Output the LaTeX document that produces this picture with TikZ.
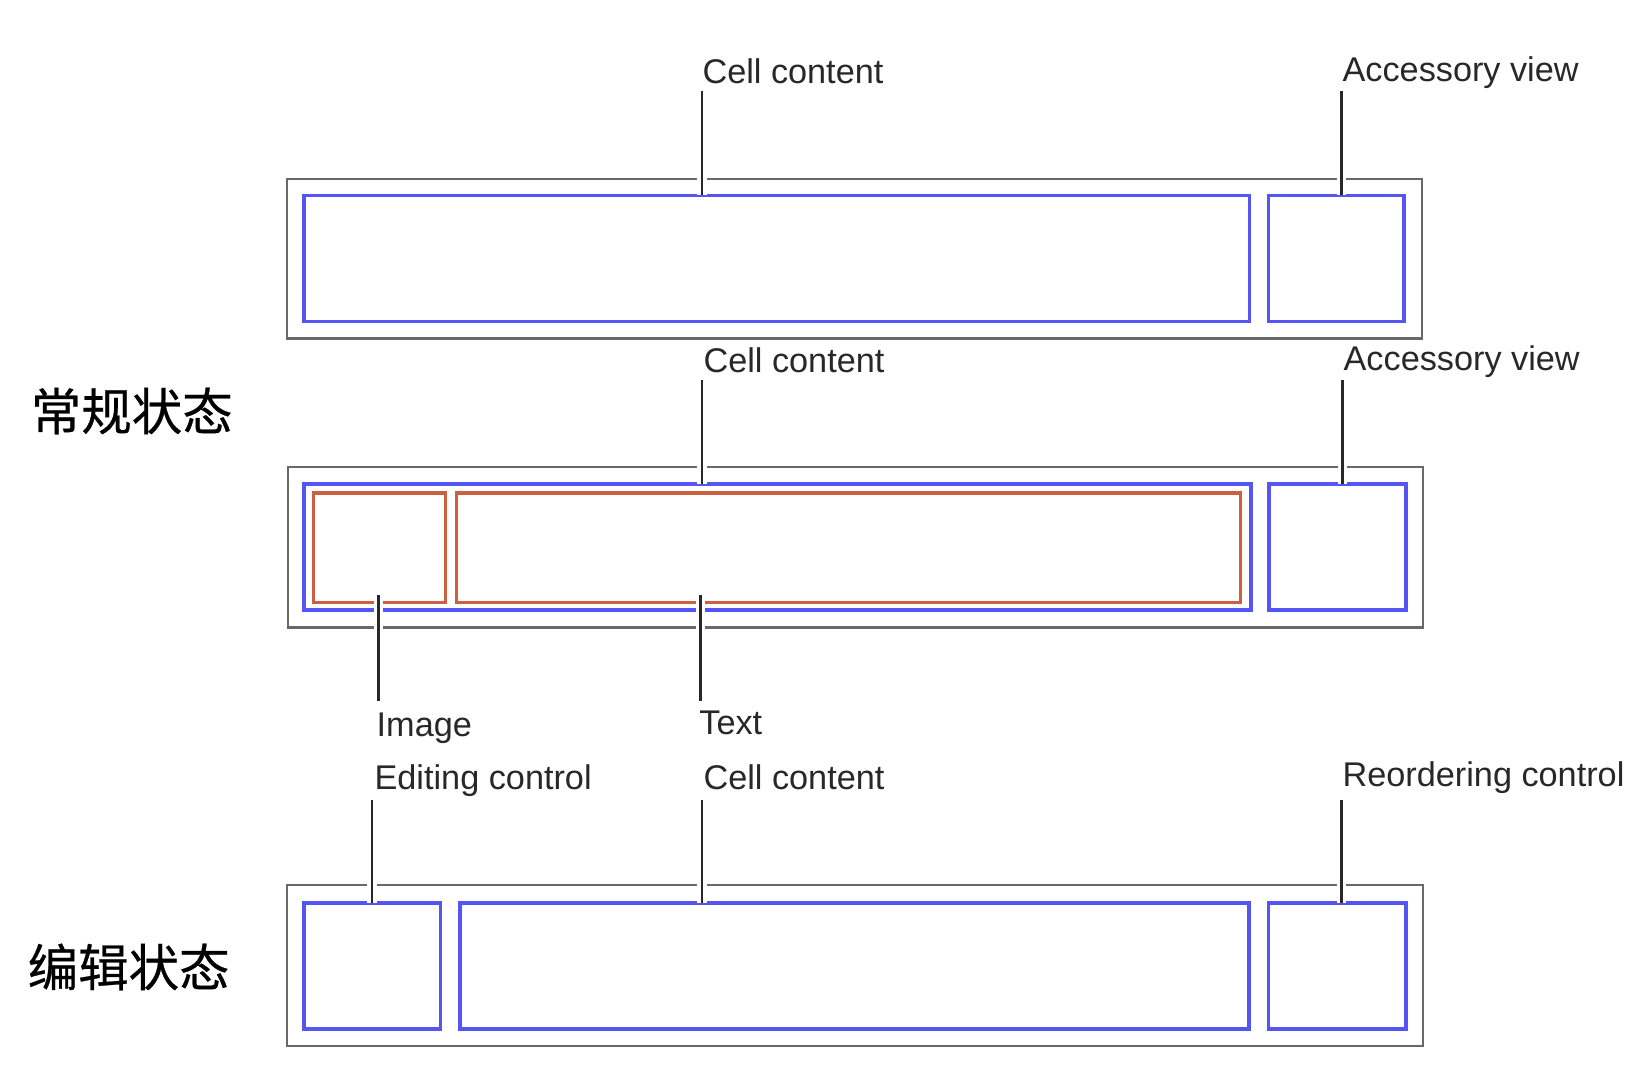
\documentclass[tikz,border=0pt]{standalone}
\usepackage{fontspec}
\setmainfont{Liberation Sans}
\newfontfamily\cjk[FakeBold=0.5]{Noto Sans CJK SC}
\usetikzlibrary{fit}
\definecolor{cellblue}{RGB}{85,85,245}
\definecolor{cellorange}{RGB}{205,95,65}
\definecolor{framegray}{RGB}{105,105,105}
\definecolor{inkc}{RGB}{40,40,40}
\begin{document}
\begin{tikzpicture}[x=0.5pt,y=-0.5pt,
  framebox/.style={draw=framegray, line width=1.1pt, inner sep=0pt, outer sep=0pt},
  bluebox/.style={draw=cellblue, line width=1.7pt, inner sep=0pt, outer sep=0pt},
  orangebox/.style={draw=cellorange, line width=1.5pt, inner sep=0pt, outer sep=0pt},
  leader/.style={draw=inkc, line width=1.2pt, preaction={draw=white, line width=4.5pt}},
  lbl/.style={anchor=base west, inner sep=0pt, text=inkc, font=\fontsize{16.3pt}{19pt}\selectfont},
  state/.style={anchor=west, inner sep=0pt, text=black, font=\cjk\fontsize{24pt}{28pt}\selectfont}]
\fill[white] (0,0) rectangle (1568,1033);
\useasboundingbox (0,0) rectangle (1568,1033);

% ---------- Row 1 ----------
\node[framebox, fit={(273,170) (1353,322)}] (r1) {};
\node[bluebox, fit={(289,186) (1189,306)}] (b11) {};
\node[bluebox, fit={(1207,186) (1336,306)}] (b12) {};
\node[lbl] (t11) at (668,79) {Cell content};
\node[lbl] (t12) at (1277,78) {Accessory view};
\coordinate (c11) at (668,87);
\coordinate (c12) at (1276.5,87);
\draw[leader] (c11) -- (c11 |- b11.north);
\draw[leader] (c12) -- (c12 |- b12.north);

% ---------- Row 2 ----------
\node[framebox, fit={(274,444) (1354,597)}] (r2) {};
\node[bluebox, fit={(289,460.5) (1190,580.5)}] (b21) {};
\node[bluebox, fit={(1207.5,460.5) (1338,580.5)}] (b22) {};
\node[orangebox, fit={(298,469) (423.5,573.5)}] (o21) {};
\node[orangebox, fit={(434.5,469) (1180,573.5)}] (o22) {};
\node[lbl] (t21) at (669,354) {Cell content};
\node[lbl] (t22) at (1278,352.5) {Accessory view};
\node[lbl] (t23) at (358,700.5) {Image};
\node[lbl] (t24) at (665,699) {Text};
\coordinate (c21) at (668,362);
\coordinate (c22) at (1277.5,362);
\coordinate (c23) at (360,667);
\coordinate (c23e) at (360,566);
\coordinate (c24) at (666.5,667);
\coordinate (c24e) at (666.5,566);
\draw[leader] (c21) -- (c21 |- b21.north);
\draw[leader] (c22) -- (c22 |- b22.north);
\draw[leader] (c23) -- (c23e);
\draw[leader] (c24) -- (c24e);

% ---------- Row 3 ----------
\node[framebox, fit={(273,842) (1354,995.5)}] (r3) {};
\node[bluebox, fit={(289,859) (419,979)}] (b31) {};
\node[bluebox, fit={(437.5,859) (1188.5,979)}] (b32) {};
\node[bluebox, fit={(1207,859) (1337.5,979)}] (b33) {};
\node[lbl] (t31) at (356,751) {Editing control};
\node[lbl] (t32) at (669,751) {Cell content};
\node[lbl] (t33) at (1277,748.5) {Reordering control};
\coordinate (c31) at (354,761);
\coordinate (c32) at (668,761);
\coordinate (c33) at (1276.5,761);
\draw[leader] (c31) -- (c31 |- b31.north);
\draw[leader] (c32) -- (c32 |- b32.north);
\draw[leader] (c33) -- (c33 |- b33.north);

% ---------- State labels ----------
\node[state] (s1) at (29,391) {常规状态};
\node[state] (s2) at (26,920) {编辑状态};
\end{tikzpicture}
\end{document}
